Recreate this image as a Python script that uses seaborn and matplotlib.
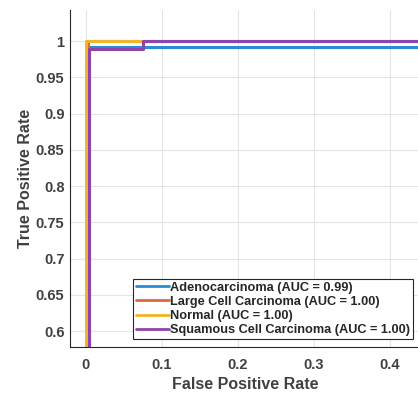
import numpy as np
import pandas as pd
import matplotlib
matplotlib.use("Agg")
import matplotlib.pyplot as plt
import seaborn as sns

# ROC curves (step points)
classes = ["Adenocarcinoma", "Large Cell Carcinoma", "Normal", "Squamous Cell Carcinoma"]
auc_values = [0.99, 1.00, 1.00, 1.00]
fpr_adeno = [0.0, 0.004, 0.004, 1.0, 1.0]
tpr_adeno = [0.0, 0.0, 0.992, 0.992, 1.0]
fpr_large = [0.0, 0.003, 0.003, 1.0]
tpr_large = [0.0, 0.0, 1.0, 1.0]
fpr_normal = [0.0, 0.0, 1.0]
tpr_normal = [0.0, 1.0, 1.0]
fpr_squam = [0.0, 0.0043, 0.0043, 0.0754, 0.0754, 1.0]
tpr_squam = [0.0, 0.0, 0.9894, 0.9894, 1.0, 1.0]
colors = ["#2A8AD2", "#E2663A", "#F0B52A", "#8E44A8"]

x_ticks = [0, 0.1, 0.2, 0.3, 0.4]
x_labels = ["0", "0.1", "0.2", "0.3", "0.4"]
y_ticks = [0.6, 0.65, 0.7, 0.75, 0.8, 0.85, 0.9, 0.95, 1.0]
y_labels = ["0.6", "0.65", "0.7", "0.75", "0.8", "0.85", "0.9", "0.95", "1"]

curves = [(fpr_adeno, tpr_adeno), (fpr_large, tpr_large),
          (fpr_normal, tpr_normal), (fpr_squam, tpr_squam)]
frames = []
for name, auc, (f, t) in zip(classes, auc_values, curves):
    lab = f"{name} (AUC = {auc:.2f})"
    frames.append(pd.DataFrame({"fpr": f, "tpr": t, "label": lab}))
df = pd.concat(frames, ignore_index=True)
labels = list(df["label"].unique())

sns.set_style("white")
plt.rcParams["font.family"] = ["Liberation Sans", "DejaVu Sans"]
plt.rcParams["font.weight"] = "bold"

fig = plt.figure(figsize=(4.18, 3.96), dpi=100)
ax = fig.add_axes([70 / 418, 49 / 396, 348 / 418, 337 / 396])

sns.lineplot(data=df, x="fpr", y="tpr", hue="label", hue_order=labels,
             palette=dict(zip(labels, colors)), sort=False, estimator=None,
             units="label", linewidth=2.2, ax=ax)

ax.set_xlim(-0.021, 0.437)
ax.set_ylim(0.578, 1.0428)
ax.set_xticks(x_ticks)
ax.set_xticklabels(x_labels)
ax.set_yticks(y_ticks)
ax.set_yticklabels(y_labels)
ax.grid(True, color="#e4e4e4", linewidth=0.8)
ax.tick_params(direction="in", length=3, labelsize=10.5, colors="#262626",
               labelcolor="#404040")
ax.tick_params(axis="x", pad=8)
ax.tick_params(axis="y", pad=4)
for lab in ax.get_xticklabels() + ax.get_yticklabels():
    lab.set_fontweight("bold")
for s in ["top", "right"]:
    ax.spines[s].set_visible(False)
for s in ["left", "bottom"]:
    ax.spines[s].set_color("#262626")
    ax.spines[s].set_linewidth(0.8)

ax.set_xlabel("False Positive Rate", fontsize=11.5, fontweight="bold", color="#404040")
ax.set_ylabel("True Positive Rate", fontsize=11.5, fontweight="bold", color="#404040")
ax.xaxis.set_label_coords(0.503, -0.088)
ax.yaxis.set_label_coords(-0.106, 0.5)

leg = ax.legend(loc="lower right", bbox_to_anchor=(0.9856, 0.0237), borderaxespad=0,
                fancybox=False, framealpha=1, edgecolor="#262626",
                prop={"weight": "bold", "size": 9.2}, handlelength=2.6,
                handletextpad=0.1, labelspacing=0.18, borderpad=0.2)
leg.get_frame().set_linewidth(0.8)
for line in leg.get_lines():
    line.set_linewidth(2)
for t in leg.get_texts():
    t.set_color("#262626")

fig.savefig("out.png", dpi=100)
